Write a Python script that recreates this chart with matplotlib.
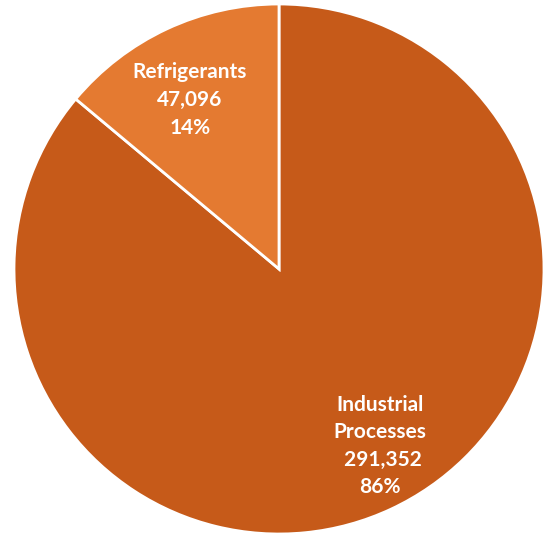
import matplotlib
matplotlib.use("Agg")
import matplotlib.pyplot as plt

categories = ["Industrial\nProcesses", "Refrigerants"]
values = [291352, 47096]
percents = ["86%", "14%"]
colors = ["#C65A19", "#E47A31"]

W, H = 544, 538
fig = plt.figure(figsize=(W / 100, H / 100), dpi=100)
ax = fig.add_axes([0, 0, 1, 1])

cx, cy, r = 279, H - 269, 265
ax.pie(values, colors=colors, startangle=90, counterclock=False,
       center=(cx, cy), radius=r, frame=True,
       wedgeprops=dict(edgecolor="white", linewidth=2))
ax.set_xlim(0, W)
ax.set_ylim(0, H)
ax.set_aspect("equal")
ax.axis("off")

font = dict(family=["Lato", "DejaVu Sans"], fontweight="bold", color="white",
            fontsize=15, ha="center", va="center", linespacing=1.47)

ax.text(190, H - 100, f"{categories[1]}\n{values[1]:,}\n{percents[1]}", **font)
ax.text(380, H - 446, f"{categories[0]}\n {values[0]:,}\n{percents[0]}", **font)

fig.savefig("out.png", dpi=100)
